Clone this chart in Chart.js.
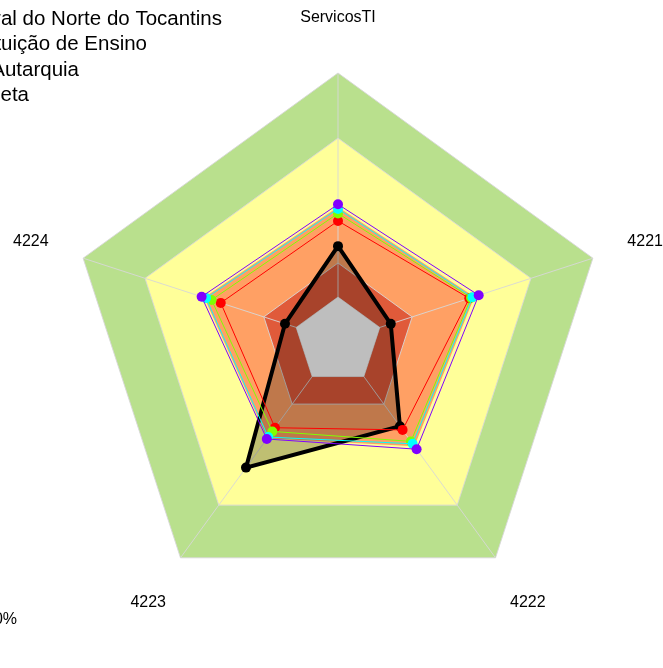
<!DOCTYPE html>
<html>
<head>
<meta charset="utf-8">
<script src="https://cdn.jsdelivr.net/npm/chart.js@4/dist/chart.umd.min.js"></script>
<style>
  html, body { margin: 0; padding: 0; background: #fff; }
  #wrap { position: relative; width: 663px; height: 668px; }
  #wrap canvas { position: absolute; left: 0; top: 0; }
</style>
</head>
<body>
<div id="wrap">
  <canvas id="fundo" width="663" height="668"></canvas>
  <canvas id="radar" width="663" height="668"></canvas>
</div>
<script>
// eixos do radar
var axes = ['ServicosTI', '4221', '4222', '4223', '4224'];

// series (percentual do raio externo)
var serieVermelha = [44.8, 51.5, 41.0, 40.0, 46.0];
var serieVerde = [47.6, 52.2, 46.3, 41.7, 49.6];
var serieCiano = [49.3, 52.8, 47.4, 44.3, 51.8];
var serieRoxa = [51.0, 55.2, 49.9, 45.2, 53.5];
var serieMeta = [35.4, 20.7, 39.3, 58.4, 20.8];

// faixas de fundo
var bandLevels = [16.4, 29.1, 75.7, 100];   // cinza, vermelho, amarelo, verde
var faixaLaranja = [50.0, 53.5, 48.5, 44.8, 52.5];

var legendTexts = ['Universidade Federal do Norte do Tocantins', 'Instituição de Ensino', 'Autarquia', 'Meta'];
var footText = '100%';

function level(v) {
  return axes.map(function() { return v; });
}

function band(data, color, order) {
  return {
    data: data,
    backgroundColor: color,
    borderWidth: 0,
    pointRadius: 0,
    fill: true,
    order: order
  };
}

function serie(data, color, order) {
  return {
    data: data,
    borderColor: color,
    borderWidth: 1,
    pointRadius: 5,
    pointBorderWidth: 0,
    pointBackgroundColor: color,
    fill: false,
    order: order
  };
}

// mesmas dimensoes nos dois canvas, para as escalas coincidirem
function radarOptions(showGrid) {
  return {
    responsive: false,
    animation: false,
    devicePixelRatio: 1,
    layout: {
      padding: { left: 70, right: 57, top: 73, bottom: 59 }
    },
    elements: {
      line: { tension: 0 }
    },
    plugins: {
      legend: { display: false },
      tooltip: { enabled: false }
    },
    scales: {
      r: {
        min: 0,
        max: 100,
        afterBuildTicks: function(scale) {
          scale.ticks = [{ value: 0 }].concat(bandLevels.map(function(v) { return { value: v }; }));
        },
        ticks: { display: false },
        pointLabels: { display: false },
        grid: { display: showGrid, color: 'rgba(215, 215, 215, 0.9)', lineWidth: 1, z: 1 },
        angleLines: { display: showGrid, color: 'rgba(215, 215, 215, 0.9)', lineWidth: 1 }
      }
    }
  };
}

var textPlugin = {
  id: 'textos',
  afterDraw: function(chart) {
    var ctx = chart.ctx;
    var scale = chart.scales.r;
    ctx.save();
    ctx.fillStyle = '#000';
    ctx.font = '16px "Liberation Sans", Arial, sans-serif';
    ctx.textAlign = 'center';
    ctx.textBaseline = 'middle';
    axes.forEach(function(label, i) {
      var p = scale.getPointPosition(i, scale.drawingArea * 1.205);
      ctx.fillText(label, p.x, p.y);
    });

    ctx.font = '20.5px "Liberation Sans", Arial, sans-serif';
    ctx.textAlign = 'right';
    ctx.textBaseline = 'alphabetic';
    var ends = [222, 147, 79, 29];
    legendTexts.forEach(function(t, i) {
      ctx.fillText(t, ends[i], 24.5 + i * 25.5);
    });

    ctx.font = '16px "Liberation Sans", Arial, sans-serif';
    ctx.fillText(footText, 17, 624);
    ctx.restore();
  }
};

// faixas + grade
new Chart(document.getElementById('fundo'), {
  type: 'radar',
  data: {
    labels: axes,
    datasets: [
      band(level(bandLevels[3]), '#B9E08D', 4),
      band(level(bandLevels[2]), '#FFFF99', 3),
      band(faixaLaranja, '#FFA064', 2),
      band(level(bandLevels[1]), '#E05A3A', 1)
    ]
  },
  options: radarOptions(true)
});

// centro cinza + series
new Chart(document.getElementById('radar'), {
  type: 'radar',
  data: {
    labels: axes,
    datasets: [
      {
        data: serieMeta,
        borderColor: '#000',
        backgroundColor: 'rgba(0, 0, 0, 0.25)',
        borderWidth: 4,
        pointRadius: 5,
        pointBorderWidth: 0,
        pointBackgroundColor: '#000',
        fill: true,
        order: 10
      },
      band(level(bandLevels[0]), '#BEBEBE', 9),
      serie(serieVermelha, '#FF0000', 4),
      serie(serieVerde, '#80FF00', 3),
      serie(serieCiano, '#00FFFF', 2),
      serie(serieRoxa, '#8000FF', 1)
    ]
  },
  options: radarOptions(false),
  plugins: [textPlugin]
});
</script>
</body>
</html>
